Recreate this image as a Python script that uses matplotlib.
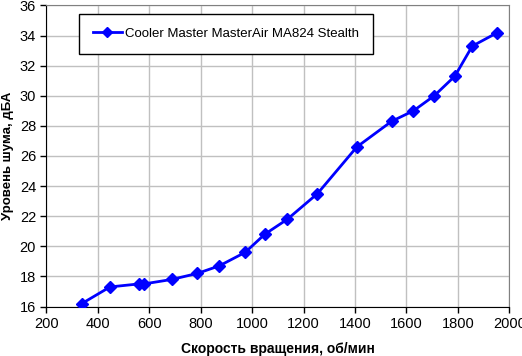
import matplotlib.pyplot as plt

plt.rcParams['font.family'] = ['Liberation Sans', 'DejaVu Sans']

rpm = [338, 447, 559, 579, 688, 787, 872, 973, 1049, 1137, 1254, 1407, 1542, 1627, 1708, 1788, 1856, 1954]
noise = [16.2, 17.3, 17.5, 17.5, 17.8, 18.2, 18.7, 19.6, 20.8, 21.8, 23.5, 26.6, 28.3, 29.0, 30.0, 31.3, 33.3, 34.2]
label = 'Cooler Master MasterAir MA824 Stealth'

fig = plt.figure(figsize=(5.22, 3.56), dpi=100)
ax = fig.add_axes([0.089, 0.139, 0.8867, 0.8457])

ax.plot(rpm, noise, color='#0000ff', lw=2, marker='D', ms=6, label=label, zorder=3)

ax.set_xlim(200, 2000)
ax.set_ylim(16, 36)
ax.set_xticks(range(200, 2001, 200))
ax.set_yticks(range(16, 37, 2))
ax.grid(True, color='#c0c0c0', lw=1)
ax.set_axisbelow(True)
ax.tick_params(direction='out', length=4, width=1, labelsize=10.5, color='black')
for s in ['top', 'right']:
    ax.spines[s].set_color('#808080')
for s in ['left', 'bottom']:
    ax.spines[s].set_color('black')

ax.set_xlabel('Скорость вращения, об/мин', fontsize=10, fontweight='bold', labelpad=8)
ax.set_ylabel('Уровень шума, дБА', fontsize=9.5, fontweight='bold')
ax.yaxis.set_label_coords(-0.071, 0.5)

leg = ax.legend(loc='upper left', bbox_to_anchor=(0.070, 0.972), borderaxespad=0, fontsize=9.5,
                fancybox=False, framealpha=1, edgecolor='black', borderpad=1.05,
                handlelength=2.2, handletextpad=0.25, markerscale=0.8)
leg.get_frame().set_linewidth(1)

fig.savefig('out.png', dpi=100)
